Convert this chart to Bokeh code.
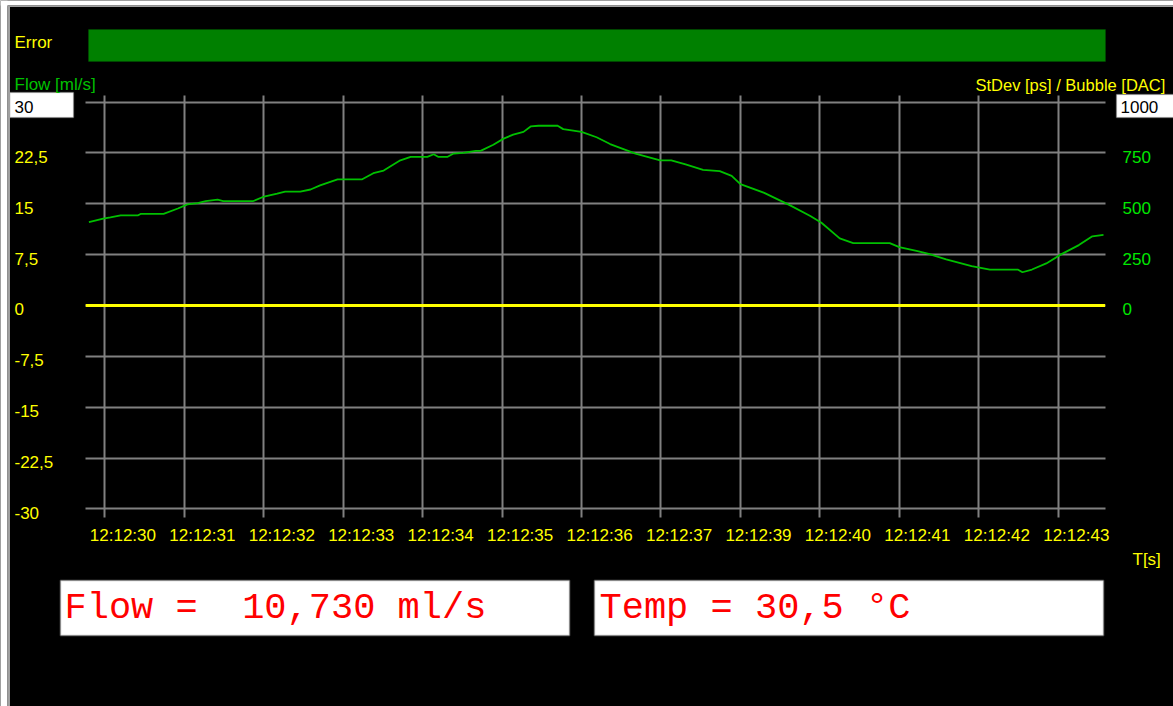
from bokeh.plotting import figure
from bokeh.models import (Range1d, FixedTicker, ColumnDataSource,
                          LabelSet, BoxAnnotation)
from bokeh.core.properties import value
from bokeh.embed import file_html
from bokeh.resources import INLINE

# ---------------- data ----------------
# time axis: one unit = one grid step, 0 = first tick (12:12:30)
time_ticks = [0, 1, 2, 3, 4, 5, 6, 7, 8, 9, 10, 11, 12]
time_labels = ["12:12:30", "12:12:31", "12:12:32", "12:12:33", "12:12:34",
               "12:12:35", "12:12:36", "12:12:37", "12:12:39", "12:12:40",
               "12:12:41", "12:12:42", "12:12:43"]

flow_t = [-0.20, -0.02, 0.07, 0.20, 0.42, 0.45, 0.74, 0.92, 1.04, 1.17, 1.27,
          1.42, 1.49, 1.87, 1.99, 2.17, 2.27, 2.46, 2.59, 2.71, 2.93, 3.24,
          3.38, 3.51, 3.72, 3.85, 4.06, 4.14, 4.20, 4.31, 4.39, 4.51, 4.67,
          4.73, 4.89, 5.02, 5.14, 5.27, 5.36, 5.46, 5.70, 5.77, 6.00, 6.19,
          6.36, 6.68, 6.99, 7.13, 7.31, 7.53, 7.74, 7.89, 8.00, 8.30, 8.62,
          8.88, 9.02, 9.25, 9.42, 9.88, 10.00, 10.23, 10.37, 10.59, 10.91,
          11.14, 11.49, 11.55, 11.67, 11.85, 12.03, 12.26, 12.43, 12.57]
flow_v = [12.3, 12.8, 13.0, 13.3, 13.3, 13.5, 13.5, 14.3, 14.9, 15.1, 15.4,
          15.6, 15.4, 15.4, 16.0, 16.5, 16.8, 16.8, 17.1, 17.7, 18.6, 18.6,
          19.5, 19.9, 21.4, 21.9, 21.9, 22.3, 21.9, 21.9, 22.4, 22.5, 22.8,
          22.8, 23.7, 24.6, 25.2, 25.6, 26.4, 26.5, 26.5, 26.0, 25.6, 24.8,
          23.8, 22.4, 21.4, 21.4, 20.8, 20.0, 19.8, 19.1, 17.9, 16.6, 14.8,
          13.2, 12.2, 9.9, 9.2, 9.2, 8.6, 8.0, 7.6, 6.8, 5.8,
          5.3, 5.3, 4.9, 5.3, 6.2, 7.5, 8.9, 10.2, 10.4]

bubble_t = [-0.24, 12.59]
bubble_v = [0, 0]

flow_ticks = [30, 22.5, 15, 7.5, 0, -7.5, -15, -22.5, -30]
flow_tick_labels = ["30", "22,5", "15", "7,5", "0", "-7,5", "-15", "-22,5", "-30"]
stdev_ticks = [0, 250, 500, 750]
stdev_tick_labels = ["0", "250", "500", "750"]
stdev_top_label = "1000"

# non-breaking spaces keep the fixed-width layout of the readouts
flow_reading = "Flow =\u00a0 10,730 ml/s"
temp_reading = "Temp = 30,5 °C"

# ---------------- geometry helpers (canvas pixel -> data) ----------------
W, H = 1173, 706
T0_PX, T_STEP = 104.3, 79.45
V30_PX, V_STEP = 101.5, 6.783
SCALE_R = 1000 / 30


def tx(px):
    return (px - T0_PX) / T_STEP


def vy(py):
    return 30 - (py - V30_PX) / V_STEP


FONT = "Liberation Sans"
FS = "17px"
YEL = "#ffff00"
GRN = "#00c000"
LIME = "#00e800"

p = figure(width=W, height=H,
           x_range=Range1d(tx(0), tx(W)),
           y_range=Range1d(vy(H), vy(0)),
           x_axis_location=None, y_axis_location=None,
           output_backend="svg", toolbar_location=None,
           background_fill_color="black", border_fill_color="black",
           min_border=0)
p.outline_line_color = None
p.extra_y_ranges = {"stdev": Range1d(vy(H) * SCALE_R, vy(0) * SCALE_R)}

# window frame (white margin + grey edge)
p.add_layout(BoxAnnotation(left=tx(0), right=tx(7), top=vy(0), bottom=vy(H),
                           fill_color="white", fill_alpha=1, line_color=None))
p.add_layout(BoxAnnotation(left=tx(7), right=tx(9.5), top=vy(6), bottom=vy(H),
                           fill_color="#a0a0a0", fill_alpha=1, line_color=None))
p.add_layout(BoxAnnotation(left=tx(0), right=tx(W), top=vy(0), bottom=vy(5),
                           fill_color="white", fill_alpha=1, line_color=None))
p.add_layout(BoxAnnotation(left=tx(7), right=tx(W), top=vy(5), bottom=vy(6.5),
                           fill_color="#a0a0a0", fill_alpha=1, line_color=None))

# grid restricted to the chart area
p.xgrid.ticker = FixedTicker(ticks=time_ticks)
p.ygrid.ticker = FixedTicker(ticks=flow_ticks)
p.xgrid.cross_bounds = (vy(517), vy(95))
p.ygrid.cross_bounds = (tx(85), tx(1105))
for g in (p.xgrid, p.ygrid):
    g.grid_line_color = "#808080"
    g.grid_line_width = 2

# series
p.line(bubble_t, bubble_v, y_range_name="stdev", line_color=YEL, line_width=3)
p.line(flow_t, flow_v, line_color=GRN, line_width=1.8)

# decorations: error bar, value boxes
p.add_layout(BoxAnnotation(left=tx(88), right=tx(1105), top=vy(29), bottom=vy(61),
                           fill_color="#008000", fill_alpha=1,
                           line_color="#005a00", line_width=1))
for l, r, t, b in [(9.5, 73, 92, 117), (1116, 1185, 94, 117)]:
    p.add_layout(BoxAnnotation(left=tx(l), right=tx(r), top=vy(t), bottom=vy(b),
                               fill_color="white", fill_alpha=1,
                               line_color="#a0a0a0", line_width=1.5))
for l, r in [(60, 569), (594, 1103)]:
    p.add_layout(BoxAnnotation(left=tx(l), right=tx(r), top=vy(580), bottom=vy(635),
                               fill_color="white", fill_alpha=1,
                               line_color="#a0a0a0", line_width=2))


def label(px, py, text, color, size=FS, font=FONT):
    src = ColumnDataSource(dict(x=[tx(px)], y=[vy(py)], text=[text]))
    p.add_layout(LabelSet(x="x", y="y", text="text", source=src,
                          text_color=color, text_font=value(font),
                          text_font_size=value(size),
                          text_baseline="alphabetic", text_align="left"))


label(14, 47, "Error", YEL)
label(14, 89, "Flow [ml/s]", GRN)
label(975, 90, "StDev [ps] / Bubble [DAC]", YEL, size="16.5px")
label(1132, 564, "T[s]", YEL)
label(14, 112, flow_tick_labels[0], "black")
label(1120, 112, stdev_top_label, "black")
label(64, 617, flow_reading, "#ff0000", size="37px", font="Liberation Mono")
label(599, 617, temp_reading, "#ff0000", size="37px", font="Liberation Mono")

# left tick labels (flow)
left_src = ColumnDataSource(dict(y=flow_ticks[1:], text=flow_tick_labels[1:],
                                 x=[tx(14)] * (len(flow_ticks) - 1)))
p.add_layout(LabelSet(x="x", y="y", text="text", source=left_src, y_offset=-10,
                      text_color=YEL, text_font=value(FONT), text_font_size=value(FS),
                      text_baseline="alphabetic", text_align="left"))

# right tick labels (stdev / bubble)
right_src = ColumnDataSource(dict(y=stdev_ticks, text=stdev_tick_labels,
                                  x=[tx(1122)] * len(stdev_ticks)))
p.add_layout(LabelSet(x="x", y="y", text="text", source=right_src, y_range_name="stdev",
                      y_offset=-10, text_color=LIME, text_font=value(FONT),
                      text_font_size=value(FS), text_baseline="alphabetic",
                      text_align="left"))

# bottom tick labels (time)
bot_src = ColumnDataSource(dict(x=time_ticks, text=time_labels,
                                y=[vy(540.5)] * len(time_ticks)))
p.add_layout(LabelSet(x="x", y="y", text="text", source=bot_src, x_offset=-15,
                      text_color=YEL, text_font=value(FONT), text_font_size=value(FS),
                      text_baseline="alphabetic", text_align="left"))

open("out.html", "w").write(file_html(p, INLINE))
